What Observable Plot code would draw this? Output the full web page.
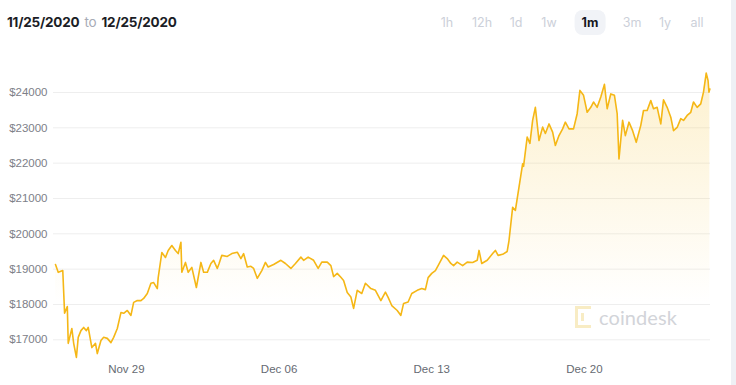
<!DOCTYPE html>
<html>
<head>
<meta charset="utf-8">
<script src="https://cdn.jsdelivr.net/npm/d3@7"></script>
<script src="https://cdn.jsdelivr.net/npm/@observablehq/plot@0.6"></script>
<style>
  html, body { margin: 0; padding: 0; background: #fff; }
  body { width: 736px; height: 385px; position: relative; overflow: hidden; font-family: "Liberation Sans", Arial, sans-serif; }
  #header { position: relative; height: 45px; }
  #range { position: absolute; left: 7px; top: 14px; font-family: Inter, "Noto Sans", sans-serif; font-size: 13.5px; font-weight: 700; color: #1b1d26; letter-spacing: -0.2px; }
  #range .to { color: #a7abb6; font-weight: 400; margin: 0 5px; }
  .btn { position: absolute; top: 15px; font-family: Inter, "Noto Sans", sans-serif; font-size: 12.5px; color: #ccd0d9; transform: translateX(-50%); }
  .btn.active { color: #15171f; font-weight: 700; background: #f1f3f7; border-radius: 8px; padding: 5px 7px; top: 10px; }
  #strip { position: absolute; left: 731px; top: 0; width: 5px; height: 385px; background: #eef0f5; }
  #wm { position: absolute; left: 575px; top: 305px; display: flex; align-items: center; }
  #wm span { font-family: "Lato", "Open Sans", sans-serif; font-size: 20px; color: #d2d4d9; margin-left: 8px; letter-spacing: 0.1px; }
  #chart { position: absolute; left: 0; top: 45px; }
</style>
</head>
<body>
<div id="header">
  <div id="range">11/25/2020<span class="to">to</span>12/25/2020</div>
</div>
<div id="chart"></div>
<div id="wm">
  <svg width="16" height="22" viewBox="0 0 16 22">
    <g fill="#f8ecc4">
      <rect x="0" y="0" width="16" height="3"/>
      <rect x="0" y="19" width="16" height="3"/>
      <rect x="0" y="0" width="3" height="22"/>
      <rect x="6" y="7" width="3" height="8"/>
    </g>
  </svg>
  <span>coindesk</span>
</div>
<div id="strip"></div>
<script>
// ---- data ----
const startUTC = Date.UTC(2020, 10, 25, 18); // first sample, 11/25/2020 ~18:00
const hours = [0,3,8,10,13,14,18,20,23,25,28,31,34,36,40,44,46,50,53,57,61,64,68,72,75,79,83,86,90,94,97,101,105,108,112,113,117,121,124,128,132,135,138,139,143,146,150,155,160,163,167,171,174,178,180,183,189,194,200,204,207,211,215,218,222,227,231,234,240,248,253,259,264,270,273,278,284,289,293,299,303,306,310,314,317,321,325,328,332,337,341,347,352,358,363,366,370,376,380,383,388,392,398,403,407,410,414,418,421,427,431,435,438,442,448,453,459,464,466,469,475,481,484,487,492,497,499,503,506,510,514,515,519,522,525,528,532,536,539,543,547,550,554,558,561,565,570,574,577,581,585,589,592,596,600,604,607,611,615,618,620,624,627,631,635,639,644,647,651,655,658,662,666,669,673,677,680,684,688,691,695,699,702,706,710,713,716,718,719,720];
const prices = [19130,18910,18960,17750,17940,16900,17320,16900,16500,17070,17260,17350,17260,17350,16780,16900,16610,16980,17070,17040,16920,17070,17320,17770,17750,17830,17690,18060,18110,18110,18170,18310,18600,18620,18450,18760,19470,19330,19530,19670,19530,19440,19760,18910,19190,18910,19050,18480,19190,18910,18910,19160,19250,19020,19160,19390,19360,19440,19480,19300,19440,19060,19080,19020,18740,18960,19190,19060,19130,19250,19160,19020,19160,19340,19250,19340,19250,19020,19200,19200,19100,18790,18880,18770,18680,18340,18210,17890,18400,18310,18600,18450,18400,18110,18350,18200,17970,17830,17690,18030,18070,18310,18400,18450,18420,18760,18880,18960,19100,19390,19300,19160,19100,19200,19100,19200,19190,19250,19530,19160,19250,19440,19530,19390,19420,19500,19810,20750,20660,21320,21980,21910,22740,22560,23210,23580,22640,23020,22840,23110,22880,22500,22780,22970,23160,22970,22970,23400,24060,23920,23440,23580,23730,23580,23870,24230,23540,23960,23920,23400,22120,23210,22780,23160,22920,22590,23070,23490,23490,23770,23540,23580,23110,23790,23580,23300,22920,23010,23260,23210,23350,23440,23730,23580,23680,24010,24550,24340,24010,24100];
const yTicks = [17000, 18000, 19000, 20000, 21000, 22000, 23000, 24000];
const xTicks = [Date.UTC(2020, 10, 29), Date.UTC(2020, 11, 6), Date.UTC(2020, 11, 13), Date.UTC(2020, 11, 20)];
const xTickLabels = ["Nov 29", "Dec 06", "Dec 13", "Dec 20"];
const buttons = ["1h", "12h", "1d", "1w", "1m", "3m", "1y", "all"];
const activeButton = "1m";

// header buttons
const btnX = [447, 482, 516, 549, 590, 632, 665, 697];
buttons.forEach((b, i) => {
  const el = document.createElement("div");
  el.className = "btn" + (b === activeButton ? " active" : "");
  el.textContent = b;
  el.style.left = btnX[i] + "px";
  document.getElementById("header").appendChild(el);
});

const data = hours.map((h, i) => ({date: new Date(startUTC + h * 3600e3), price: prices[i]}));
const H = 3600e3;

const svg = Plot.plot({
  width: 736,
  height: 340,
  marginLeft: 53,
  marginRight: 26,
  marginTop: 25.8,
  marginBottom: 24.5,
  style: {background: "transparent", overflow: "visible"},
  x: {type: "utc", domain: [new Date(startUTC - 2.2 * H), new Date(startUTC + 720.7 * H)]},
  y: {domain: [16400, 24600]},
  marks: [
    Plot.ruleY(yTicks, {stroke: "#eeeeee", strokeWidth: 1}),
    Plot.areaY(data, {x: "date", y1: 16400, y2: "price", fill: "url(#fadeFill)", curve: "linear"}),
    Plot.lineY(data, {x: "date", y: "price", stroke: "#f5b716", strokeWidth: 1.6, curve: "linear", strokeLinejoin: "round"}),
    Plot.axisY({ticks: yTicks, tickSize: 0, tickPadding: 6, tickFormat: d => "$" + d, fontSize: 11.5, fill: "#7d8088", fontFamily: "Liberation Sans, Arial, sans-serif", label: null}),
    Plot.axisX({ticks: xTicks.map(t => new Date(t)), tickSize: 0, tickPadding: 4, tickFormat: (d, i) => xTickLabels[i], fontSize: 11.5, fill: "#666a72", fontFamily: "Liberation Sans, Arial, sans-serif", label: null})
  ]
});

const defs = d3.select(svg).insert("defs", ":first-child");
const g = defs.append("linearGradient").attr("id", "fadeFill").attr("x1", 0).attr("y1", 0).attr("x2", 0).attr("y2", 1);
g.append("stop").attr("offset", "0%").attr("stop-color", "#f7c843").attr("stop-opacity", 0.26);
g.append("stop").attr("offset", "80%").attr("stop-color", "#f7c843").attr("stop-opacity", 0);

document.getElementById("chart").appendChild(svg);
</script>
</body>
</html>
